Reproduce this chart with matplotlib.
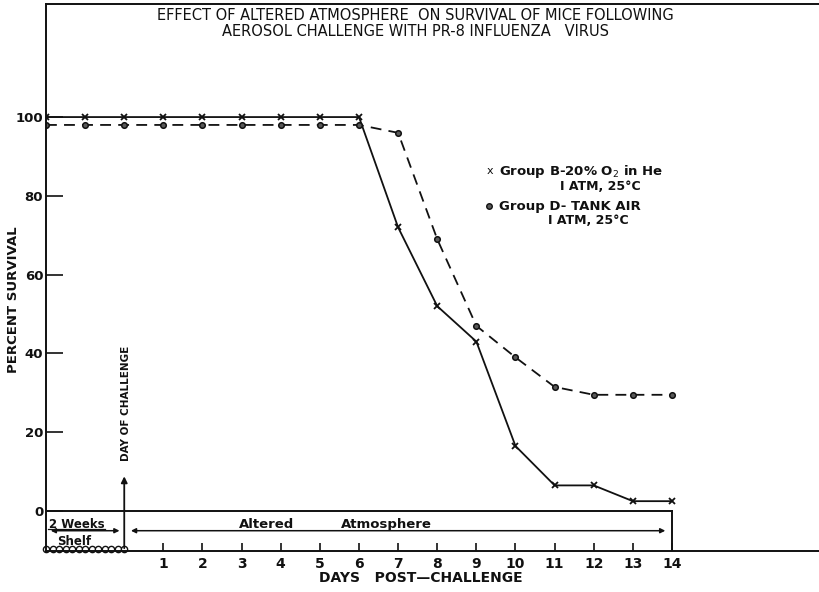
import matplotlib
matplotlib.use("Agg")
import matplotlib.pyplot as plt

# survival data
days = [-2, -1, 0, 1, 2, 3, 4, 5, 6, 7, 8, 9, 10, 11, 12, 13, 14]
group_b = [100, 100, 100, 100, 100, 100, 100, 100, 100, 72, 52, 43, 16.5, 6.5, 6.5, 2.5, 2.5]
group_d = [98, 98, 98, 98, 98, 98, 98, 98, 98, 96, 69, 47, 39, 31.5, 29.5, 29.5, 29.5]
xticks = list(range(1, 15))
yticks = [0, 20, 40, 60, 80, 100]

title_lines = ["EFFECT OF ALTERED ATMOSPHERE  ON SURVIVAL OF MICE FOLLOWING",
               "AEROSOL CHALLENGE WITH PR-8 INFLUENZA   VIRUS"]

W, H = 819, 592
ink = "#111111"


def px(x, y):
    # pixel position -> figure fraction
    return x / W, 1 - y / H


fig = plt.figure(figsize=(W / 100, H / 100), dpi=100)
ax = fig.add_axes([46 / W, 1 - 551 / H, 1 - 46 / W, (551 - 4) / H])
ax.set_xlim(-2, -2 + 773.5 / 39.15)
ax.set_ylim(-10.15, 128.7)

ax.plot(days, group_b, color=ink, lw=1.3, marker="x", ms=5, mew=1.3)
ax.plot(days, group_d, color=ink, lw=1.3, ls=(0, (6, 4)), marker="o", ms=4,
        mfc="0.35", mec=ink, mew=1.1)

for s in ["left", "bottom", "top"]:
    ax.spines[s].set_color(ink)
    ax.spines[s].set_linewidth(1.4)
ax.spines["right"].set_visible(False)

ax.set_yticks(yticks)
ax.set_xticks(xticks)
ax.tick_params(axis="y", direction="in", length=12, width=1.2, colors=ink,
               labelsize=9.5, pad=2)
ax.tick_params(axis="x", direction="in", length=6, width=1.2, colors=ink,
               labelsize=10, pad=4)
for lab in ax.get_xticklabels() + ax.get_yticklabels():
    lab.set_fontweight("bold")

# box under the curves
ax.plot([-2, 14], [0, 0], color=ink, lw=1.4)
ax.plot([14, 14], [0, -10.15], color=ink, lw=1.4)
ax.plot([x / 6 - 2 for x in range(13)], [-9.6] * 13, ls="none", marker="o", ms=4.5,
        mfc="white", mec=ink, mew=1.0, clip_on=False)
ax.annotate("", xy=(0, 9.5), xytext=(0, -10.15),
            arrowprops=dict(arrowstyle="-|>", color=ink, lw=1.3, mutation_scale=9))
ax.annotate("", xy=(-1.95, -5), xytext=(-0.05, -5),
            arrowprops=dict(arrowstyle="<|-|>", color=ink, lw=1.1, mutation_scale=7))
ax.annotate("", xy=(0.1, -5), xytext=(13.9, -5),
            arrowprops=dict(arrowstyle="<|-|>", color=ink, lw=1.1, mutation_scale=7))
ax.text(-1.2, -3.3, "2 Weeks", ha="center", va="center", fontsize=8.5,
        fontweight="bold", color=ink)
ax.plot([-1.95, -0.5], [-4.5, -4.5], color=ink, lw=0.9)
ax.text(-1.27, -7.8, "Shelf", ha="center", va="center", fontsize=8.5,
        fontweight="bold", color=ink)
ax.text(3.65, -3.4, "Altered", ha="center", va="center", fontsize=9.5,
        fontweight="bold", color=ink)
ax.text(6.7, -3.4, "Atmosphere", ha="center", va="center", fontsize=9.5,
        fontweight="bold", color=ink)
ax.text(0.05, 27.2, "DAY OF CHALLENGE", rotation=90, ha="center", va="center",
        fontsize=7.5, fontweight="bold", color=ink)

# legend, hand lettered on the original
fig.text(*px(487, 171), "x", ha="left", va="center", fontsize=8, color=ink)
fig.text(*px(499, 171), "Group B-20% O$_2$ in He", ha="left", va="center",
         fontsize=9.5, fontweight="bold", color=ink)
fig.text(*px(600, 187), "I ATM, 25°C", ha="center", va="center",
         fontsize=9, fontweight="bold", color=ink)
ax.plot([489 / W], [1 - 206 / H], transform=fig.transFigure, marker="o", ms=4,
        mfc="0.35", mec=ink, mew=1.0, clip_on=False)
fig.text(*px(499, 206), "Group D- TANK AIR", ha="left", va="center",
         fontsize=9.5, fontweight="bold", color=ink)
fig.text(*px(588, 221), "I ATM, 25°C", ha="center", va="center",
         fontsize=9, fontweight="bold", color=ink)

fig.text(*px(415, 16), title_lines[0], ha="center", va="center", fontsize=10.5, color=ink)
fig.text(*px(415, 32), title_lines[1], ha="center", va="center", fontsize=10.5, color=ink)
fig.text(*px(14, 300), "PERCENT SURVIVAL", rotation=90, ha="center", va="center",
         fontsize=9.5, fontweight="bold", color=ink)
fig.text(*px(421, 578), "DAYS   POST\u2014CHALLENGE", ha="center", va="center",
         fontsize=10, fontweight="bold", color=ink)

fig.savefig("out.png", dpi=100)
